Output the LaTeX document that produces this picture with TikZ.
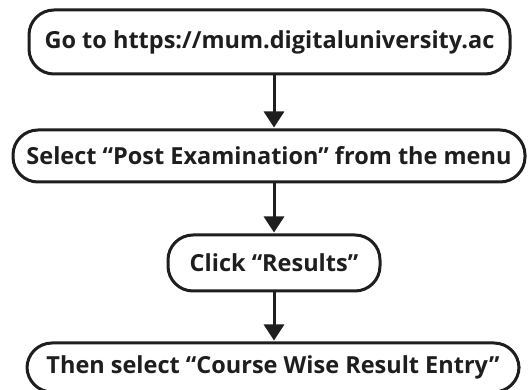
\documentclass[tikz,border=0pt]{standalone}
\usepackage{fontspec}
\setmainfont{Open Sans}
\usetikzlibrary{arrows.meta}
\definecolor{ink}{HTML}{1E1E1E}
\tikzset{
  stepbox/.style={draw=ink, line width=3pt, rounded corners=25pt, fill=white,
    inner sep=0pt, text=ink, font=\fontsize{23.5}{28}\selectfont\bfseries},
  flow/.style={draw=ink, line width=3pt,
    -{Triangle[width=20pt,length=16pt]}, shorten >=1pt}
}
\begin{document}
\begin{tikzpicture}[x=1pt,y=-1pt]
  \clip (0,0) rectangle (528,390);
  \fill[white] (0,0) rectangle (528,390);
  % the four steps, top to bottom
  \node[stepbox, minimum width=481pt, minimum height=64pt] (b1) at (269.5,42)
    {Go to https://mum.digitaluniversity.ac};
  \node[stepbox, minimum width=512pt, minimum height=52pt] (b2) at (269,156)
    {Select “Post Examination” from the menu};
  \node[stepbox, minimum width=212pt, minimum height=56pt] (b3) at (274,263)
    {Click “Results”};
  \node[stepbox, minimum width=492pt, minimum height=49pt] (b4) at (273,367.5)
    {Then select “Course Wise Result Entry”};
  % connectors
  \draw[flow] (b1.south -| b3.north) -- (b2.north -| b3.north);
  \draw[flow] (b2.south -| b3.north) -- (b3.north);
  \draw[flow] (b3.south) -- (b4.north -| b3.south);
\end{tikzpicture}
\end{document}
